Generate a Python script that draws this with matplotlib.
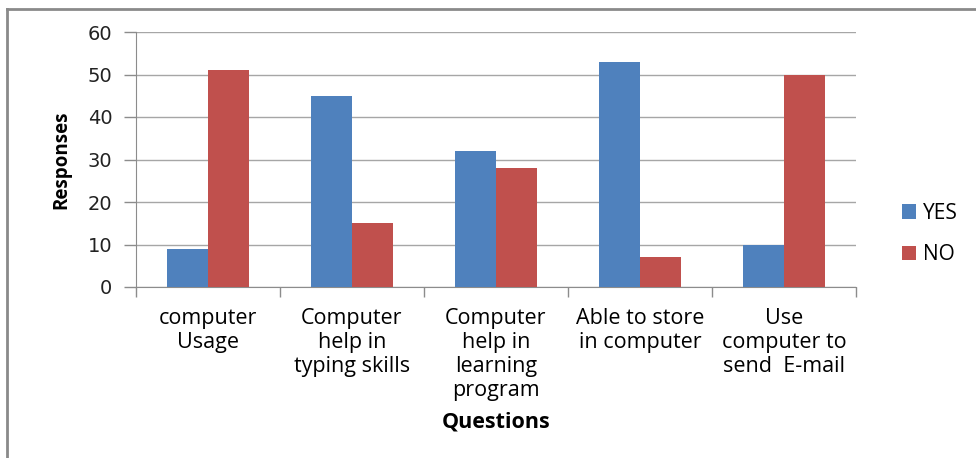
import matplotlib.pyplot as plt
import numpy as np
from matplotlib.lines import Line2D

questions = ["computer\nUsage", "Computer\nhelp in\ntyping skills",
             "Computer\nhelp in\nlearning\nprogram", "Able to store\nin computer",
             "Use\ncomputer to\nsend  E-mail"]
yes_counts = [9, 45, 32, 53, 10]
no_counts = [51, 15, 28, 7, 50]

plt.rcParams['font.family'] = ['Open Sans', 'DejaVu Sans']

fig = plt.figure(figsize=(9.76, 4.58), dpi=100)
ax = fig.add_axes([136 / 976, 1 - 287 / 458, 720 / 976, 255 / 458])

x = np.arange(len(questions))
w = 41 / 144
ax.bar(x - w / 2, yes_counts, w, color='#4F81BD', label='YES', zorder=3)
ax.bar(x + w / 2, no_counts, w, color='#C0504D', label='NO', zorder=3)

ax.set_xlim(-0.5, len(questions) - 0.5)
ax.set_ylim(0, 60)
ax.set_yticks(range(0, 61, 10))
ax.yaxis.grid(True, color='#a6a6a6', linewidth=1, zorder=0)

# category boundary ticks, labels in the middle
ax.set_xticks(np.arange(len(questions) + 1) - 0.5)
ax.set_xticklabels([])
ax.set_xticks(x, minor=True)
ax.set_xticklabels(questions, minor=True, fontsize=15.5, linespacing=1.2, va='top')
ax.tick_params(axis='x', which='major', length=7, color='#8c8c8c', width=1)
ax.tick_params(axis='x', which='minor', length=0, pad=15)
ax.tick_params(axis='y', length=9, color='#8c8c8c', width=1, labelsize=14, pad=8)
for lbl in ax.get_yticklabels():
    lbl.set_family('DejaVu Sans')
    lbl.set_color('#222222')

for side in ['top', 'right']:
    ax.spines[side].set_visible(False)
for side in ['left', 'bottom']:
    ax.spines[side].set_color('#8c8c8c')

ax.set_ylabel('Responses', fontsize=13.5, fontweight='bold', labelpad=12)
fig.text(496 / 976, 1 - 422 / 458, 'Questions', fontsize=15.5, fontweight='bold',
         ha='center', va='center')

fig.legend(loc='center left', bbox_to_anchor=(883 / 976, 1 - 234 / 458), frameon=False,
           fontsize=15, handlelength=0.7, handleheight=0.7, labelspacing=1.0,
           handletextpad=0.3)

# outer frame (top and left edges visible)
fig.add_artist(Line2D([7 / 976, 1], [1 - 9 / 458, 1 - 9 / 458], color='#8a8a8a', lw=2))
fig.add_artist(Line2D([7 / 976, 7 / 976], [0, 1 - 9 / 458], color='#8a8a8a', lw=2))

fig.savefig('out.png', dpi=100)
